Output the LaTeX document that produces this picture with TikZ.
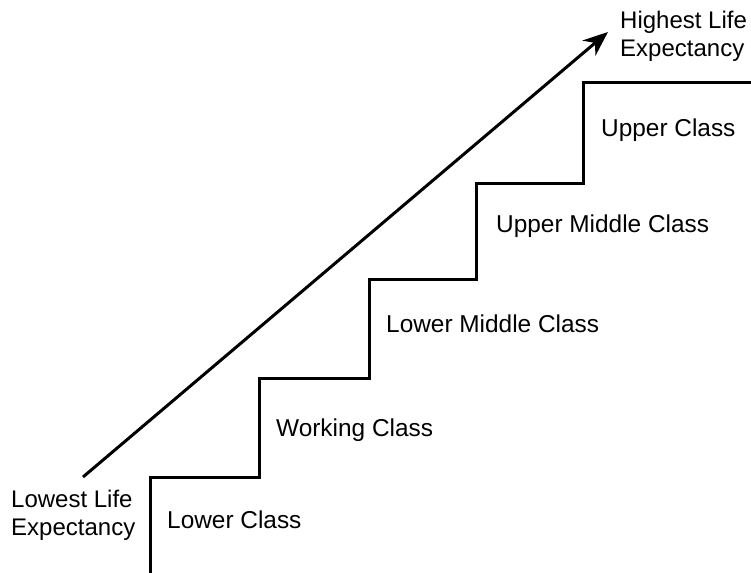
\documentclass[tikz,border=0pt]{standalone}
\usepackage{fontspec}
\setmainfont{Liberation Sans}
\usetikzlibrary{arrows.meta}
\begin{document}
\begin{tikzpicture}[x=1pt,y=-1pt,
  lbl/.style={anchor=base west,inner sep=0pt,font=\fontsize{24.4}{28}\selectfont},
  lbl2/.style={anchor=base west,inner sep=0pt,align=left,font=\fontsize{24}{28}\selectfont},
  stair/.style={line width=3pt,line join=miter},
  arr/.style={line width=3pt,-{Stealth[length=25pt,width=20pt]}}]
\useasboundingbox (0,0) rectangle (751,572);
\coordinate (s0) at (150,573);
\coordinate (s1) at (150,477);
\coordinate (s2) at (259,477);
\coordinate (s3) at (259,378);
\coordinate (s4) at (369,378);
\coordinate (s5) at (369,279);
\coordinate (s6) at (476,279);
\coordinate (s7) at (476,183);
\coordinate (s8) at (583,183);
\coordinate (s9) at (583,83);
\coordinate (s10) at (752,83);
\draw[stair] (s0) -- (s1) -- (s2) -- (s3) -- (s4) -- (s5) -- (s6) -- (s7) -- (s8) -- (s9) -- (s10);
\coordinate (a0) at (83,477);
\coordinate (a1) at (608,32);
\draw[arr] (a0) -- (a1);
\node[lbl2] (hi) at (620,57) {Highest Life\\Expectancy};
\node[lbl2] (lo) at (11,535) {Lowest Life\\Expectancy};
\node[lbl] (c1) at (167,528) {Lower Class};
\node[lbl] (c2) at (276,436) {Working Class};
\node[lbl] (c3) at (386,332) {Lower Middle Class};
\node[lbl] (c4) at (496,232) {Upper Middle Class};
\node[lbl] (c5) at (601,137) {Upper Class};
\end{tikzpicture}
\end{document}
